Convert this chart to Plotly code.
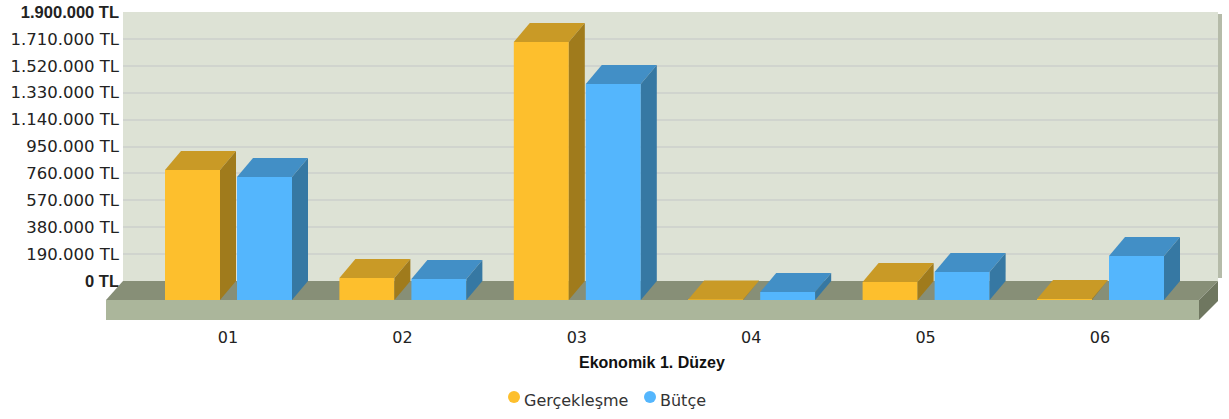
import plotly.graph_objects as go

# values (TL)
categories = ["01", "02", "03", "04", "05", "06"]
gerceklesme = [918000, 155000, 1822000, 3000, 127000, 7000]
butce = [869000, 148000, 1526000, 56000, 198000, 311000]
tick_values = [0, 190000, 380000, 570000, 760000, 950000, 1140000, 1330000, 1520000, 1710000, 1900000]
tick_labels = ["0 TL", "190.000 TL", "380.000 TL", "570.000 TL", "760.000 TL", "950.000 TL",
               "1.140.000 TL", "1.330.000 TL", "1.520.000 TL", "1.710.000 TL", "1.900.000 TL"]

W, H = 1229, 419
# page pixels of the fake 3D box
WALL_L, WALL_R, WALL_T, WALL_B = 123, 1218, 12, 281
FLOOR_L, FLOOR_R, FLOOR_Y, SLAB_B = 106, 1199, 300, 320
CAT_PX, FIRST_CENTER = 174.4, 228
BAR_PX, ORANGE_OFF, BLUE_OFF = 55, -63, 9
DEPTH_X, DEPTH_Y = 16, 19
ORANGE, BLUE = "#fdbf2d", "#54b6fd"

TL_PER_PX = 1900000 / (WALL_B - WALL_T)
dx = DEPTH_X / CAT_PX
dy = DEPTH_Y * TL_PER_PX


def x_of(px):
    return (px - FIRST_CENTER) / CAT_PX


def y_of(px):
    return (FLOOR_Y - px) * TL_PER_PX


def extrusion(fig, values, offset_px, top_color, side_color, front_color, name):
    """Front faces as bars, top and side faces as filled polygons behind them."""
    off = offset_px / CAT_PX
    width = BAR_PX / CAT_PX
    centers = list(range(len(values)))
    fig.add_trace(go.Bar(x=centers, y=values, offset=off, width=width, marker_color=front_color, name=name,
                         marker_line_width=0, xaxis="x2", yaxis="y2", showlegend=False, hoverinfo="skip"))
    for i, v in zip(centers, values):
        x0 = i + off
        x1 = x0 + width
        fig.add_trace(go.Scatter(x=[x0, x0 + dx, x1 + dx, x1, x0], y=[v, v + dy, v + dy, v, v],
                                 fill="toself", fillcolor=top_color, mode="lines", line_width=0,
                                 xaxis="x2", yaxis="y2", showlegend=False, hoverinfo="skip"))
        fig.add_trace(go.Scatter(x=[x1, x1 + dx, x1 + dx, x1, x1], y=[v, v + dy, dy, 0, v],
                                 fill="toself", fillcolor=side_color, mode="lines", line_width=0,
                                 xaxis="x2", yaxis="y2", showlegend=False, hoverinfo="skip"))


fig = go.Figure()
# empty trace so the wall subplot exists and draws its axis and grid
fig.add_trace(go.Scatter(x=[None], y=[None], xaxis="x", yaxis="y", showlegend=False, hoverinfo="skip"))
extrusion(fig, gerceklesme, ORANGE_OFF, "#c99a26", "#a07b1c", ORANGE, "Gerçekleşme")
extrusion(fig, butce, BLUE_OFF, "#428fc6", "#3678a3", BLUE, "Bütçe")


def poly(points, color, layer="below", xref="x2", yref="y2"):
    path = "M " + " L ".join(f"{x_of(a):.5f},{y_of(b):.1f}" for a, b in points) + " Z"
    return dict(type="path", path=path, fillcolor=color, line_width=0, layer=layer, xref=xref, yref=yref)


def legend_dot(cx, color):
    return dict(type="circle", xref="paper", yref="paper", x0=(cx - 6) / W, x1=(cx + 6) / W,
                y0=1 - 403 / H, y1=1 - 391 / H, fillcolor=color, line_width=0)


def legend_text(px, text):
    return dict(text=text, xref="paper", yref="paper", x=px / W, y=1 - 400 / H, showarrow=False,
                xanchor="left", yanchor="middle", xshift=-2, font=dict(size=16, color="#333333"))


shapes = [
    # back wall, under the grid lines
    dict(type="rect", xref="paper", yref="paper", x0=WALL_L / W, x1=WALL_R / W,
         y0=1 - WALL_B / H, y1=1 - WALL_T / H, fillcolor="#dde2d5", line_width=0, layer="below"),
    dict(type="rect", xref="paper", yref="paper", x0=WALL_R / W, x1=(WALL_R + 4) / W,
         y0=1 - 278 / H, y1=1 - (WALL_T + 2) / H, fillcolor="#b5bba9", line_width=0, layer="below"),
    poly([(FLOOR_L, FLOOR_Y), (WALL_L, WALL_B), (WALL_R, WALL_B), (FLOOR_R, FLOOR_Y)], "#878f77"),
    poly([(FLOOR_L, FLOOR_Y), (FLOOR_R, FLOOR_Y), (FLOOR_R, SLAB_B), (FLOOR_L, SLAB_B)], "#abb69b"),
    poly([(FLOOR_R, FLOOR_Y), (WALL_R, WALL_B), (WALL_R, WALL_B + 20), (FLOOR_R, SLAB_B)], "#6f7760"),
    legend_dot(514, ORANGE),
    legend_dot(650, BLUE),
]

bold = '<span style="font-family:Liberation Sans"><b>%s</b></span>'
tick_text = [bold % t if v in (0, 1900000) else t for v, t in zip(tick_values, tick_labels)]

fig.update_layout(
    width=W, height=H, autosize=False,
    margin=dict(l=0, r=0, t=0, b=0, autoexpand=False),
    paper_bgcolor="white", plot_bgcolor="rgba(0,0,0,0)",
    font=dict(family="DejaVu Sans", size=16, color="#222222"),
    barmode="overlay",
    shapes=shapes,
    showlegend=False,
    # wall subplot: carries the value axis and its grid lines
    xaxis=dict(domain=[WALL_L / W, WALL_R / W], range=[0, 1], visible=False),
    yaxis=dict(domain=[1 - WALL_B / H, 1 - WALL_T / H], range=[0, 1900000], anchor="x",
               tickmode="array", tickvals=tick_values, ticktext=tick_text,
               showgrid=True, gridcolor="#d0d4ce", gridwidth=2, zeroline=False, showline=False,
               ticks="", ticklabelstandoff=3, tickfont=dict(size=16.5, color="#222222")),
    # bar subplot: the front plane of the box, floor slab included
    xaxis2=dict(domain=[FLOOR_L / W, WALL_R / W], range=[x_of(FLOOR_L), x_of(WALL_R)], anchor="y2",
                tickmode="array", tickvals=list(range(len(categories))), ticktext=categories,
                showgrid=False, zeroline=False, showline=False, ticks="outside", ticklen=3,
                tickcolor="rgba(0,0,0,0)", tickfont=dict(size=16)),
    yaxis2=dict(domain=[1 - SLAB_B / H, 1 - WALL_T / H], range=[y_of(SLAB_B), y_of(WALL_T)], anchor="x2",
                visible=False),
    annotations=[dict(text="<b>Ekonomik 1. Düzey</b>", xref="paper", yref="paper", x=651.5 / W, y=1 - 362 / H,
                      showarrow=False, xanchor="center", yanchor="middle",
                      font=dict(family="Liberation Sans", size=16, color="#111111")),
                 legend_text(524, "Gerçekleşme"),
                 legend_text(660, "Bütçe")],
)

fig.write_html("out.html", config=dict(displayModeBar=False), post_script="document.body.style.margin='0';")
